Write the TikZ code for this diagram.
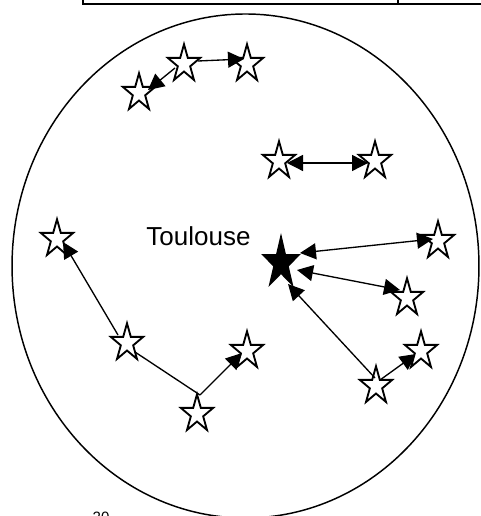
\documentclass[tikz,border=0pt]{standalone}
\usepackage{fontspec}
\setmainfont{Liberation Sans}
\usetikzlibrary{arrows.meta,calc}
% #1 name, #2 x, #3 y, #4 outer radius (px), #5 vertical stretch, #6 fill
\newcommand\drawstar[6]{%
  \node[starpt] (#1) at (#2,#3) {};
  \draw[starline, fill=#6] plot[samples at={0,1,...,9}, variable=\k]
    ({#2 + #4*(1-0.618*mod(\k,2))*cos(90+36*\k)},
     {#3 - #5*#4*(1-0.618*mod(\k,2))*sin(90+36*\k)}) -- cycle;
}
\begin{document}
\begin{tikzpicture}[x=0.75pt,y=-0.75pt,
  starpt/.style={circle, inner sep=0pt, minimum size=0pt},
  starline/.style={line width=1.4pt, line join=miter, miter limit=10, draw=black},
  tableline/.style={line width=1.5pt},
  conn/.style={line width=1pt},
  onehead/.style={conn, -{Triangle[length=12pt,width=12pt]}},
  twohead/.style={conn, {Triangle[length=12pt,width=12pt]}-{Triangle[length=12pt,width=12pt]}},
  label/.style={inner sep=0pt, anchor=base}]
\useasboundingbox (0,0) rectangle (480,516);
% fragment of the table above
\draw[tableline] (83,-2) -- (83,3.7) -- (482,3.7);
\draw[tableline] (398,-2) -- (398,3.7);
% region
\draw[line width=1.1pt] (245.5,266) ellipse [x radius=175.1pt, y radius=189pt];
% arrow partly hidden under its target star
\node[starpt] (sh0) at (376,386) {};
\node[starpt] (si0) at (421,351) {};
\draw[onehead] ($(sh0)+(4,-6)$) -- ($(si0)+(-5,3)$);
% stars
\drawstar{sa}{139}{93}{17}{1.16}{white}
\drawstar{sb}{184}{64}{17}{1.16}{white}
\drawstar{sc}{247}{64}{17}{1.16}{white}
\drawstar{sd}{279}{161}{17}{1.16}{white}
\drawstar{se}{375}{161}{17}{1.16}{white}
\drawstar{sf}{438}{241}{17}{1.16}{white}
\drawstar{sg}{407}{298}{17}{1.16}{white}
\drawstar{sh}{376}{386}{17}{1.16}{white}
\drawstar{si}{421}{351}{17}{1.16}{white}
\drawstar{sj}{57}{239}{17}{1.16}{white}
\drawstar{sk}{127}{343}{17}{1.16}{white}
\drawstar{sl}{197}{414}{17}{1.16}{white}
\drawstar{sm}{247}{351}{17}{1.16}{white}
\drawstar{b0}{281}{263}{18.5}{1.4}{black}
% connectors
\draw[onehead] ($(sb)+(-9,4)$) -- ($(sa)+(9,-3)$);
\draw[onehead] ($(sb)+(14,-3)$) -- ($(sc)+(-3,-5)$);
\draw[twohead] ($(sd)+(8,2)$) -- ($(se)+(-7,2)$);
\draw[twohead] ($(b0)+(19,-10)$) -- ($(sf)+(-5,-2)$);
\draw[twohead] ($(b0)+(16,7)$) -- ($(sg)+(-7,-8)$);
\draw[onehead] ($(sh)+(-1,-8)$) -- ($(b0)+(7,21)$);
\draw[onehead] ($(sk)+(-9,-8)$) -- ($(sj)+(6,3)$);
\draw[conn] ($(sk)+(8,9)$) -- ($(sl)+(3,-19)$);
\draw[onehead] ($(sl)+(3,-19)$) -- ($(sm)+(-5,2)$);
% texts
\node[label, font=\fontsize{19.5pt}{23pt}\selectfont] (tl) at (198.5,245) {Toulouse};
\node[label, font=\fontsize{11.25pt}{13pt}\selectfont] (pg) at (101,522.7) {20};
\end{tikzpicture}
\end{document}
